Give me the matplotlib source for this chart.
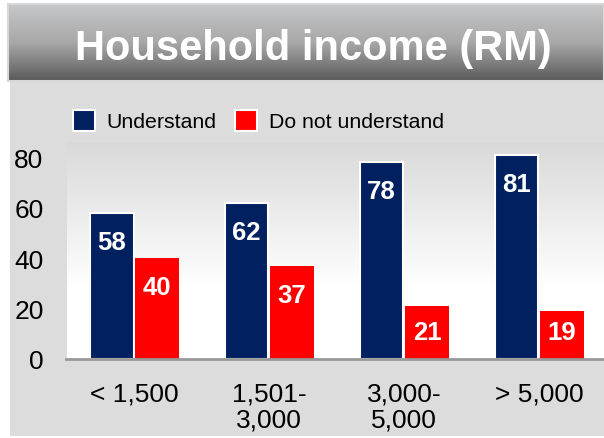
import numpy as np
import matplotlib
matplotlib.use("Agg")
import matplotlib.pyplot as plt
from matplotlib.patches import Rectangle
from matplotlib.colors import LinearSegmentedColormap

categories = ["< 1,500", "1,501-\n3,000", "3,000-\n5,000", "> 5,000"]
understand = [58, 62, 78, 81]
not_understand = [40, 37, 21, 19]
series_names = ["Understand", "Do not understand"]
yticks = [0, 20, 40, 60, 80]
title = "Household income (RM)"

NAVY = "#002060"
RED = "#FF0000"
FONT = "Liberation Sans"

W, H = 604, 439
fig = plt.figure(figsize=(W / 100, H / 100), dpi=100)
fig.patch.set_facecolor("white")

def fx(px):
    return px / W

def fy(py):
    return 1 - py / H

# background axes for the gray panel
bg = fig.add_axes([0, 0, 1, 1], zorder=-5)
bg.set_xlim(0, W)
bg.set_ylim(H, 0)
bg.axis("off")
bg.add_patch(Rectangle((10, 83), 594, 354, facecolor="#dcdcdc", edgecolor="none"))

# banner with gradient
bax = fig.add_axes([fx(8), fy(82), fx(596), (82 - 5) / H])
grad = np.linspace(0, 1, 256).reshape(-1, 1)
bcmap = LinearSegmentedColormap.from_list("b", ["#c6c7c9", "#a8a8a8", "#5a5a5a"])
bax.imshow(grad, aspect="auto", cmap=bcmap, extent=[0, 1, 0, 1], origin="upper")
bax.set_xlim(0, 1)
bax.set_ylim(0, 1)
bax.set_xticks([])
bax.set_yticks([])
for s in bax.spines.values():
    s.set_color("#d8d8d8")
    s.set_linewidth(1.5)
bax.text((313.5 - 8) / 596, (82 - 60) / 77, title, ha="center", va="baseline",
         color="white", fontsize=30, fontweight="bold", family=FONT)

# main axes
left_px, right_px, top_px, bot_px = 66.5, 604, 143, 360
ax = fig.add_axes([fx(left_px), fy(bot_px), fx(right_px - left_px),
                   (bot_px - top_px) / H])
ax.set_facecolor("none")
ymax = 86
x = np.arange(len(categories))

pgrad = np.linspace(0, 1, 256).reshape(-1, 1)
pcmap = LinearSegmentedColormap.from_list("p", ["#d9d9d9", "#ececec", "#ffffff", "#ffffff"])
ax.imshow(pgrad, aspect="auto", cmap=pcmap, extent=[-0.504, 3.48, 0, ymax],
          origin="upper", zorder=0)
ax.set_xlim(-0.504, 3.48)
ax.set_ylim(0, ymax)

bw = 0.322
gap = 0.007
b1 = ax.bar(x - bw / 2 - gap, understand, bw, color=NAVY, edgecolor="white",
            linewidth=1.5, zorder=2)
b2 = ax.bar(x + bw / 2 + gap, not_understand, bw, color=RED, edgecolor="none",
            zorder=2)

for bars, vals in ((b1, understand), (b2, not_understand)):
    for rect, v in zip(bars, vals):
        ypos = max(v - 11.5, 10.7)
        ax.text(rect.get_x() + rect.get_width() / 2, ypos, str(v),
                ha="center", va="center", color="white", fontsize=18.5,
                fontweight="bold", family=FONT, zorder=3)

for s in ["top", "right", "left"]:
    ax.spines[s].set_visible(False)
ax.spines["bottom"].set_color("#999999")
ax.spines["bottom"].set_linewidth(2)
ax.spines["bottom"].set_zorder(4)

ax.set_yticks(yticks)
ax.set_yticklabels([str(t) for t in yticks], fontsize=19, family=FONT)
ax.tick_params(axis="y", length=0, pad=16.5)
ax.set_xticks(x)
ax.set_xticklabels(categories, fontsize=19, family=FONT, linespacing=1.1)
ax.tick_params(axis="x", length=0, pad=16)

# legend
leg = ax.legend([b1, b2], series_names, loc="lower left",
                bbox_to_anchor=((64 - left_px) / (right_px - left_px),
                                (360 - 141) / (bot_px - top_px)),
                ncol=2, frameon=False, prop={"family": FONT, "size": 15.3},
                handlelength=1.05, handleheight=1.15, handletextpad=0.55,
                columnspacing=0.86, borderaxespad=0)
for h in leg.legend_handles:
    h.set_edgecolor("white")
    h.set_linewidth(1.5)

fig.savefig("out.png", dpi=100)
